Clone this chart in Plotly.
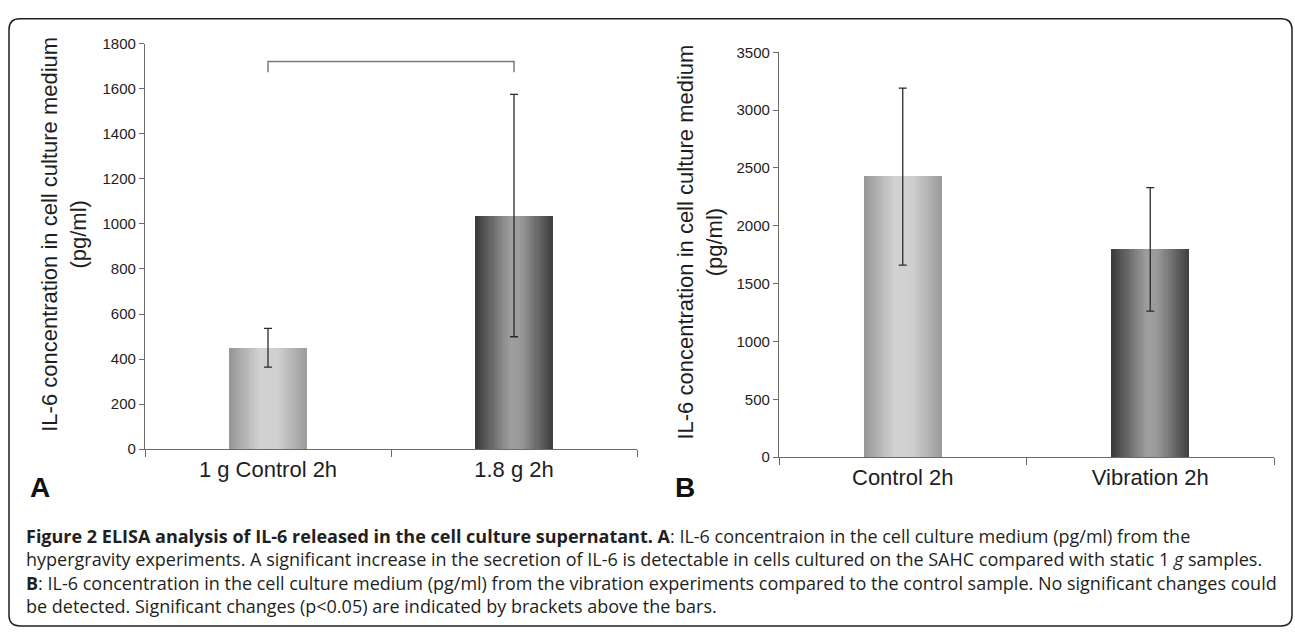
import plotly.graph_objects as go

W, H = 1295, 635

# ---------------- data ----------------
cats_a = ["1 g Control 2h", "1.8 g 2h"]
vals_a = [450, 1037]
err_a = [86, 538]
bracket_a = [1673, 1721]          # bracket leg bottom / top (pg/ml)
ticks_a = [0, 200, 400, 600, 800, 1000, 1200, 1400, 1600, 1800]

cats_b = ["Control 2h", "Vibration 2h"]
vals_b = [2425, 1796]
err_b = [765, 534]
ticks_b = [0, 500, 1000, 1500, 2000, 2500, 3000, 3500]

ytitle = "IL-6 concentration in cell culture medium<br>(pg/ml)"

caption_lines = [
    "<b>Figure 2 ELISA analysis of IL-6 released in the cell culture supernatant. A</b>: IL-6 concentraion in the cell culture medium (pg/ml) from the",
    "hypergravity experiments. A significant increase in the secretion of IL-6 is detectable in cells cultured on the SAHC compared with static 1 <i>g</i> samples.",
    "<b>B</b>: IL-6 concentration in the cell culture medium (pg/ml) from the vibration experiments compared to the control sample. No significant changes could",
    "be detected. Significant changes (p&lt;0.05) are indicated by brackets above the bars.",
]

# gradient profiles (position across bar, grey level) for light and dark bars
light_prof = [(0.0, 150), (0.40, 210), (0.62, 208), (1.0, 155)]
dark_prof = [(0.0, 58), (0.45, 158), (0.58, 155), (1.0, 62)]


def px(x):
    return x / W


def py(y):
    return 1 - y / H


def grey(prof, t):
    for (t0, g0), (t1, g1) in zip(prof[:-1], prof[1:]):
        if t0 <= t <= t1:
            g = g0 + (g1 - g0) * (t - t0) / (t1 - t0)
            g = int(round(g))
            return f"rgb({g},{g},{g})"
    g = prof[-1][1]
    return f"rgb({g},{g},{g})"


fig = go.Figure()

FONT = "Liberation Sans, Arial, Helvetica, sans-serif"
N = 36
BW = 0.314


def add_panel(cats, vals, errs, xa, ya):
    for i in range(N):
        t = (i + 0.5) / N
        fig.add_trace(go.Bar(
            x=cats, y=vals, xaxis=xa, yaxis=ya,
            width=BW / N * 1.02, offset=-BW / 2 + i * BW / N,
            marker=dict(color=[grey(light_prof, t), grey(dark_prof, t)], line=dict(width=0)),
            showlegend=False, hoverinfo="skip",
        ))
    fig.add_trace(go.Scatter(
        x=cats, y=vals, xaxis=xa, yaxis=ya, mode="markers",
        marker=dict(size=1, opacity=0),
        error_y=dict(type="data", array=errs, visible=True, color="#2a2a2a", thickness=1.3, width=4),
        showlegend=False, hoverinfo="skip",
    ))


add_panel(cats_a, vals_a, err_a, "x", "y")
add_panel(cats_b, vals_b, err_b, "x2", "y2")

axis_common = dict(showline=True, linecolor="#6a6a6a", linewidth=1.2, showgrid=False, zeroline=False,
                   ticks="outside", tickcolor="#6a6a6a", tickwidth=1.2)

fig.update_layout(
    width=W, height=H, margin=dict(l=0, r=0, t=0, b=0),
    paper_bgcolor="white", plot_bgcolor="white",
    barmode="overlay", bargap=0,
    font=dict(family=FONT, color="#1e1e1e"),
    xaxis=dict(domain=[px(145), px(637)], anchor="y", range=[-0.5, 1.5], tickson="boundaries",
               ticklen=7, tickfont=dict(size=22, family=FONT, color="#1e1e1e"), **axis_common),
    yaxis=dict(domain=[py(452.3), py(35.6)], anchor="x", range=[0, 1800], tickvals=ticks_a,
               ticklen=5, tickfont=dict(size=15, family=FONT, color="#1e1e1e"), **axis_common),
    xaxis2=dict(domain=[px(779), px(1274)], anchor="y2", range=[-0.5, 1.5], tickson="boundaries",
                ticklen=7, tickfont=dict(size=22, family=FONT, color="#1e1e1e"), **axis_common),
    yaxis2=dict(domain=[py(460.5), py(44.5)], anchor="x2", range=[0, 3500], tickvals=ticks_b,
                ticklen=5, tickfont=dict(size=15, family=FONT, color="#1e1e1e"), **axis_common),
)

# significance bracket on panel A
fig.add_shape(type="path", xref="x", yref="y",
              path=f"M 0 {bracket_a[0]} L 0 {bracket_a[1]} L 1 {bracket_a[1]} L 1 {bracket_a[0]}",
              line=dict(color="#7a7a7a", width=1.5))

# outer rounded frame
x0, x1, y0, y1, r = 9, 1292, 10, 634, 11
path = (f"M {px(x0 + r)} {py(y0)} L {px(x1 - r)} {py(y0)} Q {px(x1)} {py(y0)} {px(x1)} {py(y0 + r)} "
        f"L {px(x1)} {py(y1 - r)} Q {px(x1)} {py(y1)} {px(x1 - r)} {py(y1)} "
        f"L {px(x0 + r)} {py(y1)} Q {px(x0)} {py(y1)} {px(x0)} {py(y1 - r)} "
        f"L {px(x0)} {py(y0 + r)} Q {px(x0)} {py(y0)} {px(x0 + r)} {py(y0)} Z")
fig.add_shape(type="path", xref="paper", yref="paper", path=path, line=dict(color="#222222", width=1.5))

# y axis titles
for cx, cy in [(64, 232), (700, 240)]:
    fig.add_annotation(x=px(cx), y=py(cy), xref="paper", yref="paper", text=ytitle, textangle=-90,
                       showarrow=False, xanchor="center", yanchor="middle",
                       font=dict(size=22, family=FONT, color="#1e1e1e"))

# panel letters
for lx, lab in [(28, "A"), (673, "B")]:
    fig.add_annotation(x=px(lx), y=py(510), xref="paper", yref="paper", text=f"<b>{lab}</b>",
                       showarrow=False, xanchor="left", yanchor="bottom",
                       font=dict(size=28, family=FONT, color="#111111"))

# caption (one text block, four lines)
fig.add_annotation(x=px(24), y=py(577), xref="paper", yref="paper", text="<br>".join(caption_lines),
                   showarrow=False, xanchor="left", yanchor="middle", align="left",
                   font=dict(size=18, family="Open Sans, sans-serif", color="#231f20"))

fig.write_html("out.html", config={"displayModeBar": False},
               post_script="document.body.style.margin='0';document.body.style.overflow='hidden';")
